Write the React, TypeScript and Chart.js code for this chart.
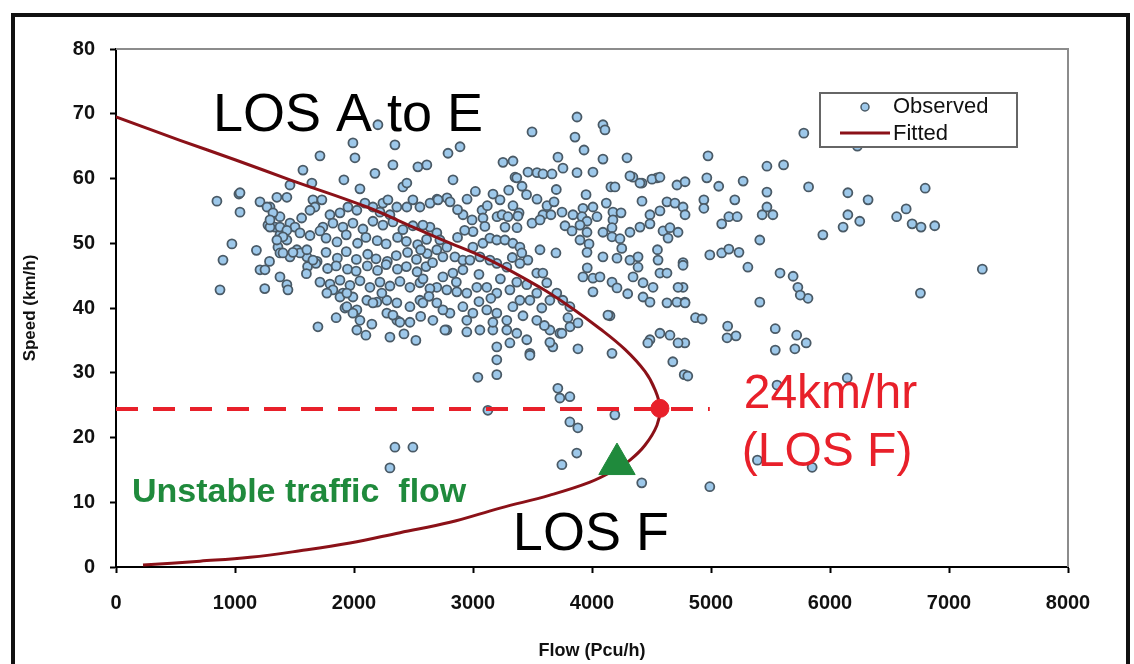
import React, { useEffect, useRef } from "react";
import { Chart, registerables } from "chart.js";

Chart.register(...registerables);

const FONT = '"Liberation Sans", Arial, Helvetica, sans-serif';

const xTickValues = [0, 1000, 2000, 3000, 4000, 5000, 6000, 7000, 8000];
const yTickValues = [0, 10, 20, 30, 40, 50, 60, 70, 80];

// Observed flow (pcu/h) and speed (km/h)
const observedFlow = [
  5780, 4975, 5470, 5610, 6800, 4965, 5065, 5270, 5820, 6150,
  6320, 4940, 4940, 5200, 5470, 5470, 5430, 5520, 5090, 5150,
  5220, 6150, 6250, 6110, 6640, 6560, 6690, 6765, 6880, 5940,
  5410, 7280, 6760, 4990, 5090, 5150, 5235, 5310, 5580, 5690,
  5730, 5815, 5750, 5410, 4870, 4925, 5140, 5210, 5135, 5540,
  5720, 5800, 5705, 5540, 4780, 4775, 4805, 6145, 5555, 5390,
  5850, 4990, 4765, 4765, 4780, 6230, 4159, 4344, 4420, 4546,
  3874, 4092, 4109, 3496, 3857, 3933, 3714, 4092, 4294, 2891,
  2790, 3252, 3336, 3756, 4008, 3874, 3462, 3538, 3588, 3664,
  3353, 3412, 4193, 4319, 4403, 4504, 4571, 4714, 4782, 2832,
  3168, 3227, 3538, 2697, 2782, 3076, 3084, 3336, 3387, 3622,
  3681, 3748, 3588, 3655, 3840, 3924, 4008, 3916, 3958, 4042,
  4176, 4244, 4176, 4487, 4571, 4630, 4697, 4765, 4782, 2639,
  2706, 2807, 2916, 2992, 3202, 3244, 3294, 3378, 3269, 3370,
  3496, 3563, 3773, 3832, 3899, 3958, 4092, 4168, 4168, 4235,
  4319, 4403, 4487, 4597, 4655, 4639, 4723, 3563, 3697, 3899,
  3975, 3958, 4092, 4210, 4319, 4387, 4387, 4555, 4571, 4630,
  4723, 4765, 3924, 4008, 4067, 4008, 4168, 4210, 4345, 4429,
  4429, 4487, 4513, 4630, 4714, 4782, 4151, 4487, 4571, 4655,
  4723, 3798, 3815, 3882, 4168, 3882, 3368, 4134, 4469, 4679,
  2638, 2696, 2722, 2780, 2696, 2747, 2848, 2915, 2999, 3083,
  3142, 3200, 3268, 3335, 3394, 3410, 3461, 3394, 3284, 3200,
  3142, 3058, 2974, 2915, 2831, 2747, 2696, 2780, 2864, 2948,
  3032, 3116, 3200, 3310, 3368, 3452, 3536, 3587, 3620, 3536,
  3478, 3394, 3335, 3284, 3200, 3116, 2999, 2915, 2806, 2747,
  2696, 2663, 2780, 2948, 3058, 3167, 3284, 3368, 3452, 3310,
  3200, 3478, 3671, 3730, 3646, 3536, 3578, 3646, 3704, 3755,
  3814, 3478, 3646, 3747, 3000, 3100, 2870, 3050, 3230, 3330,
  2201, 1991, 2344, 1714, 2008, 2327, 2537, 2612, 1571, 2176,
  1915, 1646, 2050, 2411, 2444, 1462, 1033, 848, 1042, 1210,
  1352, 1436, 1294, 1655, 1730, 1672, 1630, 1378, 1462, 1504,
  1336, 1277, 1798, 1882, 1949, 2024, 2092, 2159, 2243, 2285,
  2360, 2218, 2302, 2444, 2495, 2554, 1739, 1823, 1907, 1991,
  2075, 2159, 2243, 2327, 2411, 2495, 2579, 1294, 1378, 1436,
  1361, 1546, 1630, 1714, 1765, 1857, 1935, 2030, 2100, 2195,
  2270, 2366, 2440, 2535, 2610, 974, 899, 1378, 1462, 1520,
  1604, 1690, 1765, 1860, 1935, 2020, 2115, 2185, 2280, 2355,
  2450, 2525, 2615, 1610, 1680, 1778, 1850, 1945, 2018, 2112,
  2198, 2270, 2365, 2440, 2530, 2605, 1210, 1252, 1378, 1436,
  1714, 1798, 1882, 1966, 2050, 2134, 2218, 2302, 2386, 2470,
  2554, 2638, 874, 1445, 1907, 1991, 2108, 2192, 2276, 2360,
  2470, 2554, 1924, 2008, 2276, 2360, 2470, 2579, 1697, 2024,
  2302, 1042, 1269, 1319, 1294, 1378, 1436, 1403, 1352, 1546,
  1604, 1655, 1487, 1403, 1823, 1772, 1882, 1940, 1940, 2024,
  2159, 2234, 1991, 2050, 2327, 2386, 2764, 2948, 3167, 3200,
  3041, 3200, 3125, 2344, 2495, 2302, 3713, 3814, 3730, 3814,
  3881, 4192, 3872, 3747, 4418, 1290, 1180, 1250, 1560, 1600,
  2560, 2660, 2580, 2630, 2560, 2420, 2150, 1850, 2100, 2520,
  2870, 2950, 3020, 2930, 3120, 3300, 3450, 3700, 3950, 4120,
  3050, 3150, 2860, 3420, 3600, 3960, 4300, 4550, 4420, 4250,
];

const observedSpeed = [
  67.0, 63.5, 61.9, 62.1, 58.5, 60.1, 58.8, 59.6, 58.7, 57.8,
  56.7, 56.7, 55.4, 56.7, 57.9, 55.6, 54.4, 54.4, 53.0, 54.1,
  54.1, 54.4, 53.4, 52.5, 55.3, 54.1, 53.0, 52.5, 52.7, 51.3,
  50.5, 46.0, 42.3, 48.2, 48.5, 49.1, 48.6, 46.3, 45.4, 44.9,
  43.2, 41.5, 42.0, 40.9, 38.5, 38.3, 37.2, 35.7, 35.4, 36.8,
  35.8, 34.6, 33.7, 33.5, 34.6, 29.7, 29.5, 29.2, 28.1, 16.5,
  15.4, 12.4, 47.0, 43.2, 40.9, 65.0, 58.7, 60.2, 59.3, 60.1,
  69.5, 68.3, 67.5, 67.2, 66.4, 64.4, 63.3, 63.0, 63.2, 64.9,
  63.9, 62.5, 62.7, 61.6, 61.0, 60.9, 61.0, 60.9, 60.7, 60.7,
  60.2, 58.8, 58.7, 60.4, 59.3, 59.9, 60.2, 59.0, 59.5, 59.8,
  57.6, 56.7, 56.8, 56.8, 57.0, 55.1, 53.9, 55.8, 54.7, 55.8,
  56.4, 54.8, 54.4, 54.4, 54.4, 55.4, 55.6, 54.1, 53.4, 54.1,
  54.8, 54.7, 53.6, 54.4, 55.0, 56.4, 56.2, 55.6, 54.4, 56.2,
  56.7, 56.4, 54.4, 53.6, 54.1, 54.4, 54.1, 54.2, 52.5, 52.4,
  53.1, 53.6, 52.7, 51.9, 52.8, 51.7, 51.7, 52.4, 51.0, 50.7,
  51.7, 52.5, 53.0, 51.9, 52.4, 50.8, 51.7, 49.0, 48.5, 50.5,
  49.9, 48.6, 47.9, 47.7, 47.4, 47.9, 46.3, 47.4, 45.4, 45.4,
  43.2, 46.6, 44.8, 44.6, 44.8, 42.5, 44.0, 43.1, 44.8, 43.9,
  41.7, 40.9, 43.2, 40.8, 40.9, 40.8, 38.8, 35.1, 36.1, 35.8,
  34.6, 38.5, 37.1, 37.7, 33.0, 33.7, 60.1, 38.9, 34.6, 31.7,
  52.5, 51.6, 50.5, 49.4, 49.0, 47.9, 47.9, 47.4, 49.4, 50.0,
  50.8, 50.5, 50.5, 50.0, 49.4, 48.5, 47.4, 46.9, 46.3, 46.9,
  47.4, 47.9, 47.4, 45.9, 45.4, 44.8, 43.2, 42.8, 42.5, 42.3,
  43.2, 43.2, 42.3, 42.8, 44.0, 43.6, 45.4, 45.4, 43.9, 42.3,
  41.2, 41.2, 40.2, 38.1, 39.2, 39.7, 39.2, 40.2, 39.2, 39.7,
  40.8, 38.1, 36.6, 38.1, 36.6, 36.6, 36.6, 36.1, 35.1, 34.6,
  34.0, 33.0, 34.0, 36.1, 36.6, 38.1, 40.0, 41.2, 42.3, 41.2,
  40.2, 32.7, 34.7, 36.1, 51.8, 52.6, 50.9, 45.2, 44.5, 47.8,
  68.3, 65.5, 65.2, 63.5, 63.2, 62.1, 61.8, 62.1, 61.3, 60.8,
  59.8, 59.3, 58.4, 58.7, 59.3, 59.0, 57.6, 56.5, 54.8, 56.4,
  57.1, 57.1, 55.6, 56.7, 56.7, 55.6, 55.1, 54.1, 53.1, 52.5,
  52.5, 52.8, 54.4, 54.7, 55.6, 55.1, 56.2, 55.6, 56.2, 56.7,
  55.6, 54.8, 54.4, 55.6, 56.7, 55.6, 52.5, 53.1, 52.5, 53.1,
  52.2, 53.4, 52.8, 53.3, 52.1, 52.7, 52.8, 52.5, 51.3, 50.5,
  49.4, 51.6, 51.2, 51.9, 50.8, 50.2, 51.3, 50.0, 50.9, 50.4,
  49.9, 50.9, 50.3, 49.8, 50.6, 49.9, 47.4, 48.5, 47.9, 49.0,
  47.9, 47.2, 48.6, 47.7, 48.7, 47.5, 48.3, 47.6, 47.2, 48.1,
  48.6, 47.5, 48.4, 46.4, 46.9, 46.1, 46.5, 46.0, 45.7, 46.5,
  45.8, 46.7, 46.0, 46.4, 45.6, 46.4, 45.9, 45.9, 44.8, 43.6,
  44.0, 43.7, 44.3, 43.5, 44.2, 43.2, 44.0, 43.4, 44.1, 43.2,
  43.9, 43.0, 42.8, 42.8, 42.3, 41.7, 41.2, 40.9, 41.2, 40.8,
  40.2, 41.2, 40.0, 39.4, 39.2, 38.1, 37.8, 40.8, 37.1, 36.6,
  35.5, 57.8, 55.6, 54.7, 53.6, 52.5, 52.0, 51.0, 50.5, 48.5,
  49.0, 47.4, 48.6, 48.5, 42.8, 42.3, 41.7, 42.3, 40.2, 39.7,
  40.8, 42.3, 39.2, 38.1, 38.9, 37.8, 36.6, 36.3, 37.8, 32.0,
  29.3, 29.7, 24.2, 18.5, 18.5, 15.3, 27.6, 26.3, 26.1, 22.4,
  21.5, 23.5, 17.6, 15.8, 13.0, 47.2, 48.9, 43.0, 53.9, 45.3,
  49.0, 47.0, 44.5, 41.8, 38.7, 36.0, 37.5, 38.5, 35.8, 35.0,
  55.2, 56.8, 58.0, 52.0, 55.8, 58.2, 57.5, 58.3, 57.5, 56.2,
  41.0, 41.5, 44.0, 38.8, 37.3, 46.2, 42.2, 49.0, 56.5, 49.2,
];

// Fitted speed-flow curve (upper branch then congested branch)
const fittedFlow = [
  0, 538, 1000, 1462, 2108, 2495, 2747, 3142, 3562, 3814, 4067, 4277, 4445, 4529, 4571,
  4546, 4445, 4319, 4193, 3983, 3647, 3227, 2807, 2387, 1966, 1546, 1126, 706, 227,
];
const fittedSpeed = [
  69.5, 65.9, 62.9, 59.8, 55.6, 52.5, 50.5, 47.4, 43.2, 40.2, 36.8, 33.6, 30.2, 27.4, 24.6,
  21.9, 18.8, 16.5, 15.0, 13.1, 11.1, 9.1, 6.9, 5.3, 3.7, 2.5, 1.5, 0.9, 0.3,
];

// LOS F threshold line (24 km/h) and markers
const thresholdFlow = [0, 4990];
const thresholdSpeed = [24.4, 24.4];
const capacityFlow = [4571];
const capacitySpeed = [24.5];
const transitionFlow = [4210];
const transitionSpeed = [15.9];

const OBS_FILL = "#9dc8ea";
const OBS_BORDER = "#4a5a66";
const FIT_COLOR = "#8b1118";
const RED = "#e8202a";
const GREEN = "#1f8a3c";

const overlayPlugin = {
  id: "losOverlay",
  beforeDatasetsDraw(chart: any) {
    const { ctx, chartArea: a } = chart;
    ctx.save();
    ctx.strokeStyle = "#8c8c8c";
    ctx.lineWidth = 2;
    ctx.beginPath();
    ctx.moveTo(a.left, a.top);
    ctx.lineTo(a.right, a.top);
    ctx.lineTo(a.right, a.bottom);
    ctx.stroke();
    ctx.restore();
  },
  afterDraw(chart: any) {
    const { ctx, chartArea: a } = chart;
    const xs = chart.scales.x;
    const ys = chart.scales.y;
    const px = (v: number) => xs.getPixelForValue(v);
    const py = (v: number) => ys.getPixelForValue(v);
    ctx.save();
    ctx.textAlign = "left";
    ctx.textBaseline = "alphabetic";
    ctx.fillStyle = "#000";
    ctx.font = `54px ${FONT}`;
    ctx.fillText("LOS A to E", px(815), py(67.3));
    ctx.fillText("LOS F", px(3335), py(2.6));
    ctx.fillStyle = RED;
    ctx.font = `48px ${FONT}`;
    ctx.fillText("24km/hr", px(5275), py(24.6));
    ctx.fillText("(LOS F)", px(5258), py(15.6));
    ctx.fillStyle = GREEN;
    ctx.font = `bold 34px ${FONT}`;
    ctx.fillText("Unstable traffic  flow", px(134), py(10.0));

    // legend box
    const lx = a.right - 248;
    const ly = a.top + 44;
    ctx.fillStyle = "#fff";
    ctx.fillRect(lx, ly, 197, 54);
    ctx.strokeStyle = "#666";
    ctx.lineWidth = 2;
    ctx.strokeRect(lx, ly, 197, 54);
    ctx.beginPath();
    ctx.arc(lx + 45, ly + 14, 4, 0, Math.PI * 2);
    ctx.fillStyle = OBS_FILL;
    ctx.fill();
    ctx.lineWidth = 1.5;
    ctx.strokeStyle = OBS_BORDER;
    ctx.stroke();
    ctx.beginPath();
    ctx.moveTo(lx + 20, ly + 40);
    ctx.lineTo(lx + 70, ly + 40);
    ctx.strokeStyle = FIT_COLOR;
    ctx.lineWidth = 3;
    ctx.stroke();
    ctx.fillStyle = "#111";
    ctx.font = `22px ${FONT}`;
    ctx.textBaseline = "middle";
    ctx.fillText("Observed", lx + 73, ly + 14);
    ctx.fillText("Fitted", lx + 73, ly + 41);
    ctx.restore();
  },
};

export default function App() {
  const canvasRef = useRef<HTMLCanvasElement | null>(null);

  useEffect(() => {
    if (!canvasRef.current) return;
    const tickFont = { family: FONT, size: 20, weight: "bold" as const };
    const chart = new Chart(canvasRef.current, {
      type: "scatter",
      data: {
        datasets: [
          {
            label: "Observed",
            data: observedFlow.map((x, i) => ({ x, y: observedSpeed[i] })),
            pointRadius: 4.5,
            pointBackgroundColor: OBS_FILL,
            pointBorderColor: OBS_BORDER,
            pointBorderWidth: 1.8,
            showLine: false,
            order: 5,
          },
          {
            label: "Fitted",
            data: fittedFlow.map((x, i) => ({ x, y: fittedSpeed[i] })),
            showLine: true,
            borderColor: FIT_COLOR,
            borderWidth: 3,
            pointRadius: 0,
            tension: 0.4,
            fill: false,
            order: 4,
          },
          {
            label: "24 km/h",
            data: thresholdFlow.map((x, i) => ({ x, y: thresholdSpeed[i] })),
            showLine: true,
            borderColor: RED,
            borderWidth: 4,
            borderDash: [22, 15],
            pointRadius: 0,
            fill: false,
            order: 3,
          },
          {
            label: "Capacity",
            data: capacityFlow.map((x, i) => ({ x, y: capacitySpeed[i] })),
            pointRadius: 9,
            pointBackgroundColor: RED,
            pointBorderColor: RED,
            showLine: false,
            order: 2,
          },
          {
            label: "Transition",
            data: transitionFlow.map((x, i) => ({ x, y: transitionSpeed[i] })),
            pointStyle: "triangle",
            pointRadius: 21,
            pointBackgroundColor: GREEN,
            pointBorderColor: GREEN,
            pointBorderWidth: 1,
            showLine: false,
            order: 1,
          },
        ],
      },
      options: {
        responsive: false,
        animation: false,
        devicePixelRatio: 1,
        layout: { padding: { top: 49, right: 66, bottom: 0, left: 0 } },
        plugins: {
          legend: { display: false },
          tooltip: { enabled: false },
        },
        scales: {
          x: {
            type: "linear",
            position: "bottom",
            min: 0,
            max: 8000,
            afterBuildTicks: (s: any) => {
              s.ticks = xTickValues.map((value) => ({ value }));
            },
            afterFit: (s: any) => {
              s.height = 97;
            },
            grid: {
              drawOnChartArea: false,
              drawTicks: true,
              tickLength: 6,
              tickColor: "#000",
              tickWidth: 2,
            },
            border: { color: "#000", width: 2 },
            ticks: {
              font: tickFont,
              color: "#111",
              padding: 18,
              maxRotation: 0,
              autoSkip: false,
              callback: (v: any) => String(v),
            },
            title: {
              display: true,
              text: "Flow (Pcu/h)",
              color: "#111",
              font: { family: FONT, size: 18, weight: "bold" },
              padding: { top: 0, bottom: 2 },
            },
          },
          y: {
            type: "linear",
            min: 0,
            max: 80,
            afterBuildTicks: (s: any) => {
              s.ticks = yTickValues.map((value) => ({ value }));
            },
            afterFit: (s: any) => {
              s.width = 116;
            },
            grid: {
              drawOnChartArea: false,
              drawTicks: true,
              tickLength: 6,
              tickColor: "#000",
              tickWidth: 2,
            },
            border: { color: "#000", width: 2 },
            ticks: {
              font: tickFont,
              color: "#111",
              padding: 15,
              callback: (v: any) => String(v),
            },
            title: {
              display: true,
              text: "Speed (km/h)",
              color: "#111",
              font: { family: FONT, size: 17, weight: "bold" },
              padding: { top: 20, bottom: 0 },
            },
          },
        },
      },
      plugins: [overlayPlugin],
    });
    return () => chart.destroy();
  }, []);

  return (
    <div
      style={{
        position: "fixed",
        left: 0,
        top: 0,
        width: 1134,
        height: 664,
        overflow: "hidden",
        background: "#fff",
      }}
    >
      <div
        style={{
          position: "absolute",
          left: 11,
          top: 13,
          width: 1119,
          height: 720,
          boxSizing: "border-box",
          border: "4px solid #111",
        }}
      />
      <canvas
        ref={canvasRef}
        width={1134}
        height={664}
        style={{ position: "absolute", left: 0, top: 0 }}
      />
    </div>
  );
}
